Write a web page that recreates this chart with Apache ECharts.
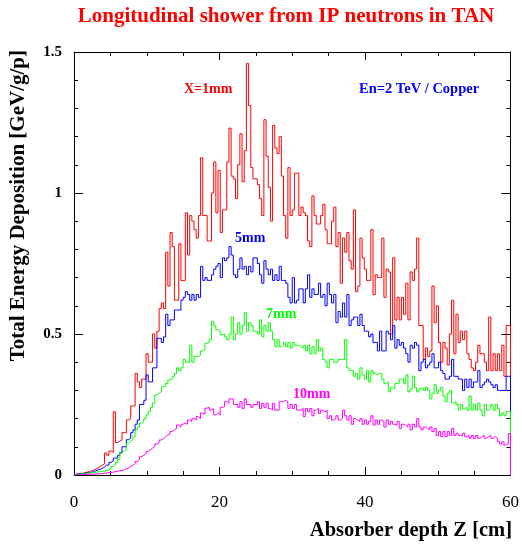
<!DOCTYPE html>
<html><head><meta charset="utf-8">
<script src="https://cdn.jsdelivr.net/npm/echarts@6/dist/echarts.min.js"></script>
<style>html,body{margin:0;padding:0;background:#fff}#c{width:522px;height:544px}</style>
</head><body><div id="c"></div>
<script>
const xMin = 0, xMax = 60;
const xTickLabels = [0, 20, 40, 60];
const yTickLabels = [0, 0.5, 1, 1.5];

// X = 1 mm (red), 200 bins of 0.3 cm
const red = [
0.003,0.004,0.005,0.006,0.008,0.01,0.012,0.015,0.018,0.02,
0.025,0.03,0.035,0.04,0.078,0.07,0.085,0.08,0.224,0.115,
0.12,0.125,0.15,0.15,0.195,0.2,0.245,0.245,0.36,0.33,
0.31,0.34,0.34,0.43,0.40,0.40,0.50,0.45,0.51,0.59,
0.61,0.59,0.79,0.67,0.86,0.81,0.62,0.62,0.82,0.69,
0.69,0.93,0.78,0.92,0.90,0.87,0.84,0.92,1.125,0.92,
0.92,0.83,0.83,1.0,1.11,0.93,1.08,0.86,0.94,0.94,
1.11,1.23,1.06,1.05,0.98,1.10,1.21,1.04,1.15,1.46,
1.31,1.09,1.05,1.05,1.03,0.98,0.92,1.26,1.13,1.02,
0.90,1.24,1.16,1.14,1.20,1.06,0.92,0.84,1.09,0.92,
0.94,1.07,1.07,0.92,0.95,0.93,0.92,0.83,0.81,0.99,
0.92,0.89,0.89,0.92,0.96,0.87,0.82,0.82,0.90,0.95,
0.81,0.86,0.68,0.84,0.79,0.86,0.76,0.73,0.94,0.65,
0.67,0.84,0.77,0.73,0.69,0.69,0.87,0.64,0.71,0.70,
0.70,0.84,0.63,0.73,0.72,0.50,0.77,0.55,0.63,0.55,
0.63,0.57,0.68,0.55,0.72,0.69,0.73,0.84,0.53,0.53,
0.41,0.45,0.42,0.44,0.67,0.54,0.60,0.47,0.40,0.47,
0.45,0.39,0.50,0.62,0.43,0.57,0.47,0.51,0.48,0.51,
0.43,0.41,0.38,0.37,0.40,0.46,0.43,0.43,0.40,0.37,
0.56,0.37,0.43,0.37,0.43,0.37,0.46,0.35,0.53,0.53
];
// 5 mm (blue)
const blue = [
0.002,0.003,0.004,0.005,0.006,0.007,0.008,0.01,0.012,0.015,
0.018,0.02,0.024,0.028,0.035,0.035,0.045,0.05,0.06,0.06,
0.07,0.08,0.10,0.10,0.125,0.13,0.15,0.16,0.18,0.195,
0.25,0.25,0.265,0.355,0.33,0.33,0.38,0.38,0.485,0.485,
0.47,0.49,0.57,0.53,0.55,0.55,0.585,0.585,0.585,0.62,
0.63,0.65,0.64,0.62,0.64,0.62,0.64,0.63,0.74,0.69,
0.70,0.69,0.69,0.71,0.73,0.74,0.75,0.70,0.77,0.76,
0.77,0.81,0.78,0.71,0.70,0.73,0.77,0.73,0.74,0.71,
0.74,0.72,0.77,0.77,0.75,0.71,0.68,0.76,0.73,0.71,
0.73,0.69,0.71,0.69,0.74,0.69,0.69,0.68,0.63,0.61,
0.70,0.61,0.62,0.66,0.66,0.61,0.66,0.71,0.63,0.66,
0.64,0.64,0.68,0.63,0.64,0.60,0.68,0.64,0.61,0.64,
0.54,0.58,0.56,0.61,0.56,0.64,0.53,0.55,0.56,0.56,
0.53,0.57,0.53,0.51,0.51,0.49,0.50,0.47,0.47,0.44,
0.51,0.44,0.44,0.51,0.50,0.48,0.53,0.45,0.48,0.46,
0.47,0.45,0.43,0.40,0.46,0.45,0.47,0.46,0.37,0.40,
0.41,0.38,0.39,0.40,0.43,0.38,0.38,0.40,0.37,0.36,
0.34,0.34,0.35,0.41,0.35,0.35,0.34,0.34,0.30,0.34,
0.31,0.34,0.31,0.33,0.33,0.37,0.31,0.32,0.33,0.34,
0.33,0.32,0.31,0.32,0.30,0.30,0.30,0.30,0.35,0.35
];
// 7 mm (green)
const green = [
0.002,0.002,0.003,0.004,0.005,0.006,0.007,0.008,0.009,0.01,
0.011,0.012,0.013,0.014,0.016,0.018,0.022,0.03,0.035,0.045,
0.055,0.078,0.085,0.09,0.113,0.12,0.125,0.136,0.16,0.17,
0.184,0.19,0.2,0.213,0.225,0.24,0.255,0.284,0.29,0.295,
0.313,0.315,0.325,0.337,0.34,0.35,0.36,0.38,0.37,0.38,
0.41,0.40,0.40,0.46,0.40,0.42,0.42,0.425,0.44,0.443,
0.467,0.47,0.48,0.545,0.53,0.515,0.51,0.497,0.50,0.49,
0.48,0.50,0.56,0.48,0.50,0.54,0.50,0.53,0.575,0.51,
0.54,0.53,0.51,0.51,0.50,0.55,0.49,0.53,0.51,0.54,
0.51,0.48,0.455,0.48,0.455,0.46,0.47,0.455,0.47,0.45,
0.47,0.46,0.46,0.455,0.45,0.46,0.44,0.46,0.43,0.455,
0.43,0.48,0.44,0.45,0.41,0.40,0.38,0.41,0.41,0.40,
0.40,0.41,0.41,0.41,0.48,0.38,0.37,0.37,0.35,0.36,
0.34,0.38,0.355,0.34,0.37,0.33,0.37,0.36,0.355,0.36,
0.36,0.34,0.325,0.33,0.295,0.31,0.305,0.325,0.325,0.34,
0.34,0.325,0.355,0.295,0.305,0.35,0.31,0.295,0.305,0.31,
0.30,0.31,0.30,0.27,0.29,0.32,0.29,0.30,0.31,0.28,
0.26,0.29,0.30,0.255,0.26,0.25,0.23,0.25,0.235,0.24,
0.23,0.28,0.23,0.25,0.23,0.255,0.23,0.21,0.25,0.23,
0.235,0.25,0.23,0.25,0.235,0.21,0.22,0.21,0.225,0.225
];
// 10 mm (magenta)
const magenta = [
0.0005,0.001,0.001,0.0015,0.002,0.002,0.0025,0.003,0.003,0.004,
0.004,0.005,0.005,0.006,0.007,0.008,0.009,0.01,0.012,0.013,
0.015,0.016,0.018,0.022,0.025,0.03,0.035,0.04,0.048,0.055,
0.065,0.07,0.075,0.083,0.09,0.095,0.10,0.11,0.115,0.124,
0.128,0.135,0.142,0.145,0.154,0.16,0.165,0.177,0.17,0.18,
0.184,0.18,0.195,0.19,0.20,0.195,0.207,0.20,0.22,0.215,
0.237,0.24,0.23,0.235,0.213,0.22,0.213,0.24,0.242,0.26,
0.255,0.27,0.27,0.25,0.25,0.24,0.26,0.236,0.27,0.25,
0.25,0.24,0.25,0.25,0.26,0.236,0.254,0.24,0.254,0.236,
0.23,0.254,0.23,0.23,0.26,0.26,0.265,0.26,0.236,0.25,
0.236,0.25,0.23,0.23,0.236,0.207,0.236,0.224,0.236,0.21,
0.23,0.236,0.218,0.23,0.224,0.23,0.20,0.21,0.195,0.20,
0.21,0.195,0.20,0.23,0.21,0.195,0.21,0.18,0.20,0.195,
0.19,0.20,0.18,0.195,0.18,0.19,0.21,0.177,0.195,0.18,
0.195,0.19,0.17,0.195,0.18,0.19,0.18,0.177,0.19,0.165,
0.18,0.177,0.17,0.18,0.16,0.18,0.17,0.20,0.17,0.16,
0.17,0.165,0.16,0.17,0.154,0.165,0.14,0.154,0.136,0.154,
0.136,0.154,0.14,0.165,0.14,0.148,0.14,0.14,0.148,0.136,
0.14,0.13,0.14,0.13,0.14,0.13,0.136,0.14,0.13,0.136,
0.14,0.13,0.136,0.13,0.118,0.11,0.118,0.106,0.11,0.147
];

function hist(vals) {
  const w = (xMax - xMin) / vals.length;
  const d = [[xMin, 0]];
  vals.forEach((v, i) => d.push([xMin + i * w, v]));
  d.push([xMax, vals[vals.length - 1]]);
  d.push([xMax, 0]);
  return d;
}

const serif = '"Liberation Serif", "Times New Roman", serif';
const chart = echarts.init(document.getElementById('c'), null, {renderer: 'canvas'});

function xAx(pos, labels) {
  return {
    type: 'value', min: xMin, max: xMax, interval: 20, position: pos,
    axisLine: {show: true, onZero: false, lineStyle: {color: '#000', width: 1}},
    axisTick: {show: true, inside: true, length: 8, lineStyle: {color: '#000'}},
    minorTick: {show: true, splitNumber: 4, length: 4, lineStyle: {color: '#000'}},
    axisLabel: {show: labels, fontFamily: serif, fontSize: 17, color: '#000', margin: 19,
      formatter: v => xTickLabels.includes(v) ? String(v) : ''},
    splitLine: {show: false}
  };
}
function yAx(pos, labels) {
  return {
    type: 'value', min: 0, max: 1.5, interval: 0.5, position: pos,
    axisLine: {show: true, onZero: false, lineStyle: {color: '#000', width: 1}},
    axisTick: {show: true, inside: true, length: 9, lineStyle: {color: '#000'}},
    minorTick: {show: true, splitNumber: 5, length: 4, lineStyle: {color: '#000'}},
    axisLabel: {show: labels, fontFamily: serif, fontWeight: 'bold', fontSize: 15, color: '#000', margin: 12,
      formatter: v => yTickLabels.includes(v) ? String(v) : ''},
    splitLine: {show: false}
  };
}
function ser(name, vals, color) {
  return {
    name, type: 'line', step: 'end', data: hist(vals), showSymbol: false, symbol: 'none',
    xAxisIndex: 0, yAxisIndex: 0,
    lineStyle: {color, width: 1}, itemStyle: {color}, animation: false, silent: true
  };
}

chart.setOption({
  animation: false,
  backgroundColor: '#fff',
  grid: {left: 74, right: 10, top: 52, bottom: 69},
  xAxis: [xAx('bottom', true), xAx('top', false)],
  yAxis: [yAx('left', true), yAx('right', false)],
  series: [
    ser('X=1mm', red, '#ff0000'),
    ser('5mm', blue, '#0000ff'),
    ser('7mm', green, '#00ff00'),
    ser('10mm', magenta, '#ff00ff')
  ],
  graphic: [
    {type: 'text', x: 286, y: 17, style: {text: 'Longitudinal shower from IP neutrons in TAN', fill: '#ff0000',
      font: 'bold 21px ' + serif, textAlign: 'center', textVerticalAlign: 'middle'}},
    {type: 'text', x: 19, y: 50, rotation: Math.PI / 2, style: {text: 'Total Energy Deposition [GeV/g/p]', fill: '#000',
      font: 'bold 21px ' + serif, textAlign: 'right', textVerticalAlign: 'middle'}},
    {type: 'text', x: 512, y: 531, style: {text: 'Absorber depth Z [cm]', fill: '#000',
      font: 'bold 20.5px ' + serif, textAlign: 'right', textVerticalAlign: 'middle'}},
    {type: 'text', x: 184, y: 89, style: {text: 'X=1mm', fill: '#ff0000', font: 'bold 14px ' + serif, textVerticalAlign: 'middle'}},
    {type: 'text', x: 359, y: 89, style: {text: 'En=2 TeV / Copper', fill: '#0000ff', font: 'bold 14.5px ' + serif, textVerticalAlign: 'middle'}},
    {type: 'text', x: 235, y: 238, style: {text: '5mm', fill: '#0000ff', font: 'bold 14px ' + serif, textVerticalAlign: 'middle'}},
    {type: 'text', x: 266, y: 314, style: {text: '7mm', fill: '#00ff00', font: 'bold 14px ' + serif, textVerticalAlign: 'middle'}},
    {type: 'text', x: 293, y: 394, style: {text: '10mm', fill: '#ff00ff', font: 'bold 14px ' + serif, textVerticalAlign: 'middle'}}
  ]
});
</script></body></html>
